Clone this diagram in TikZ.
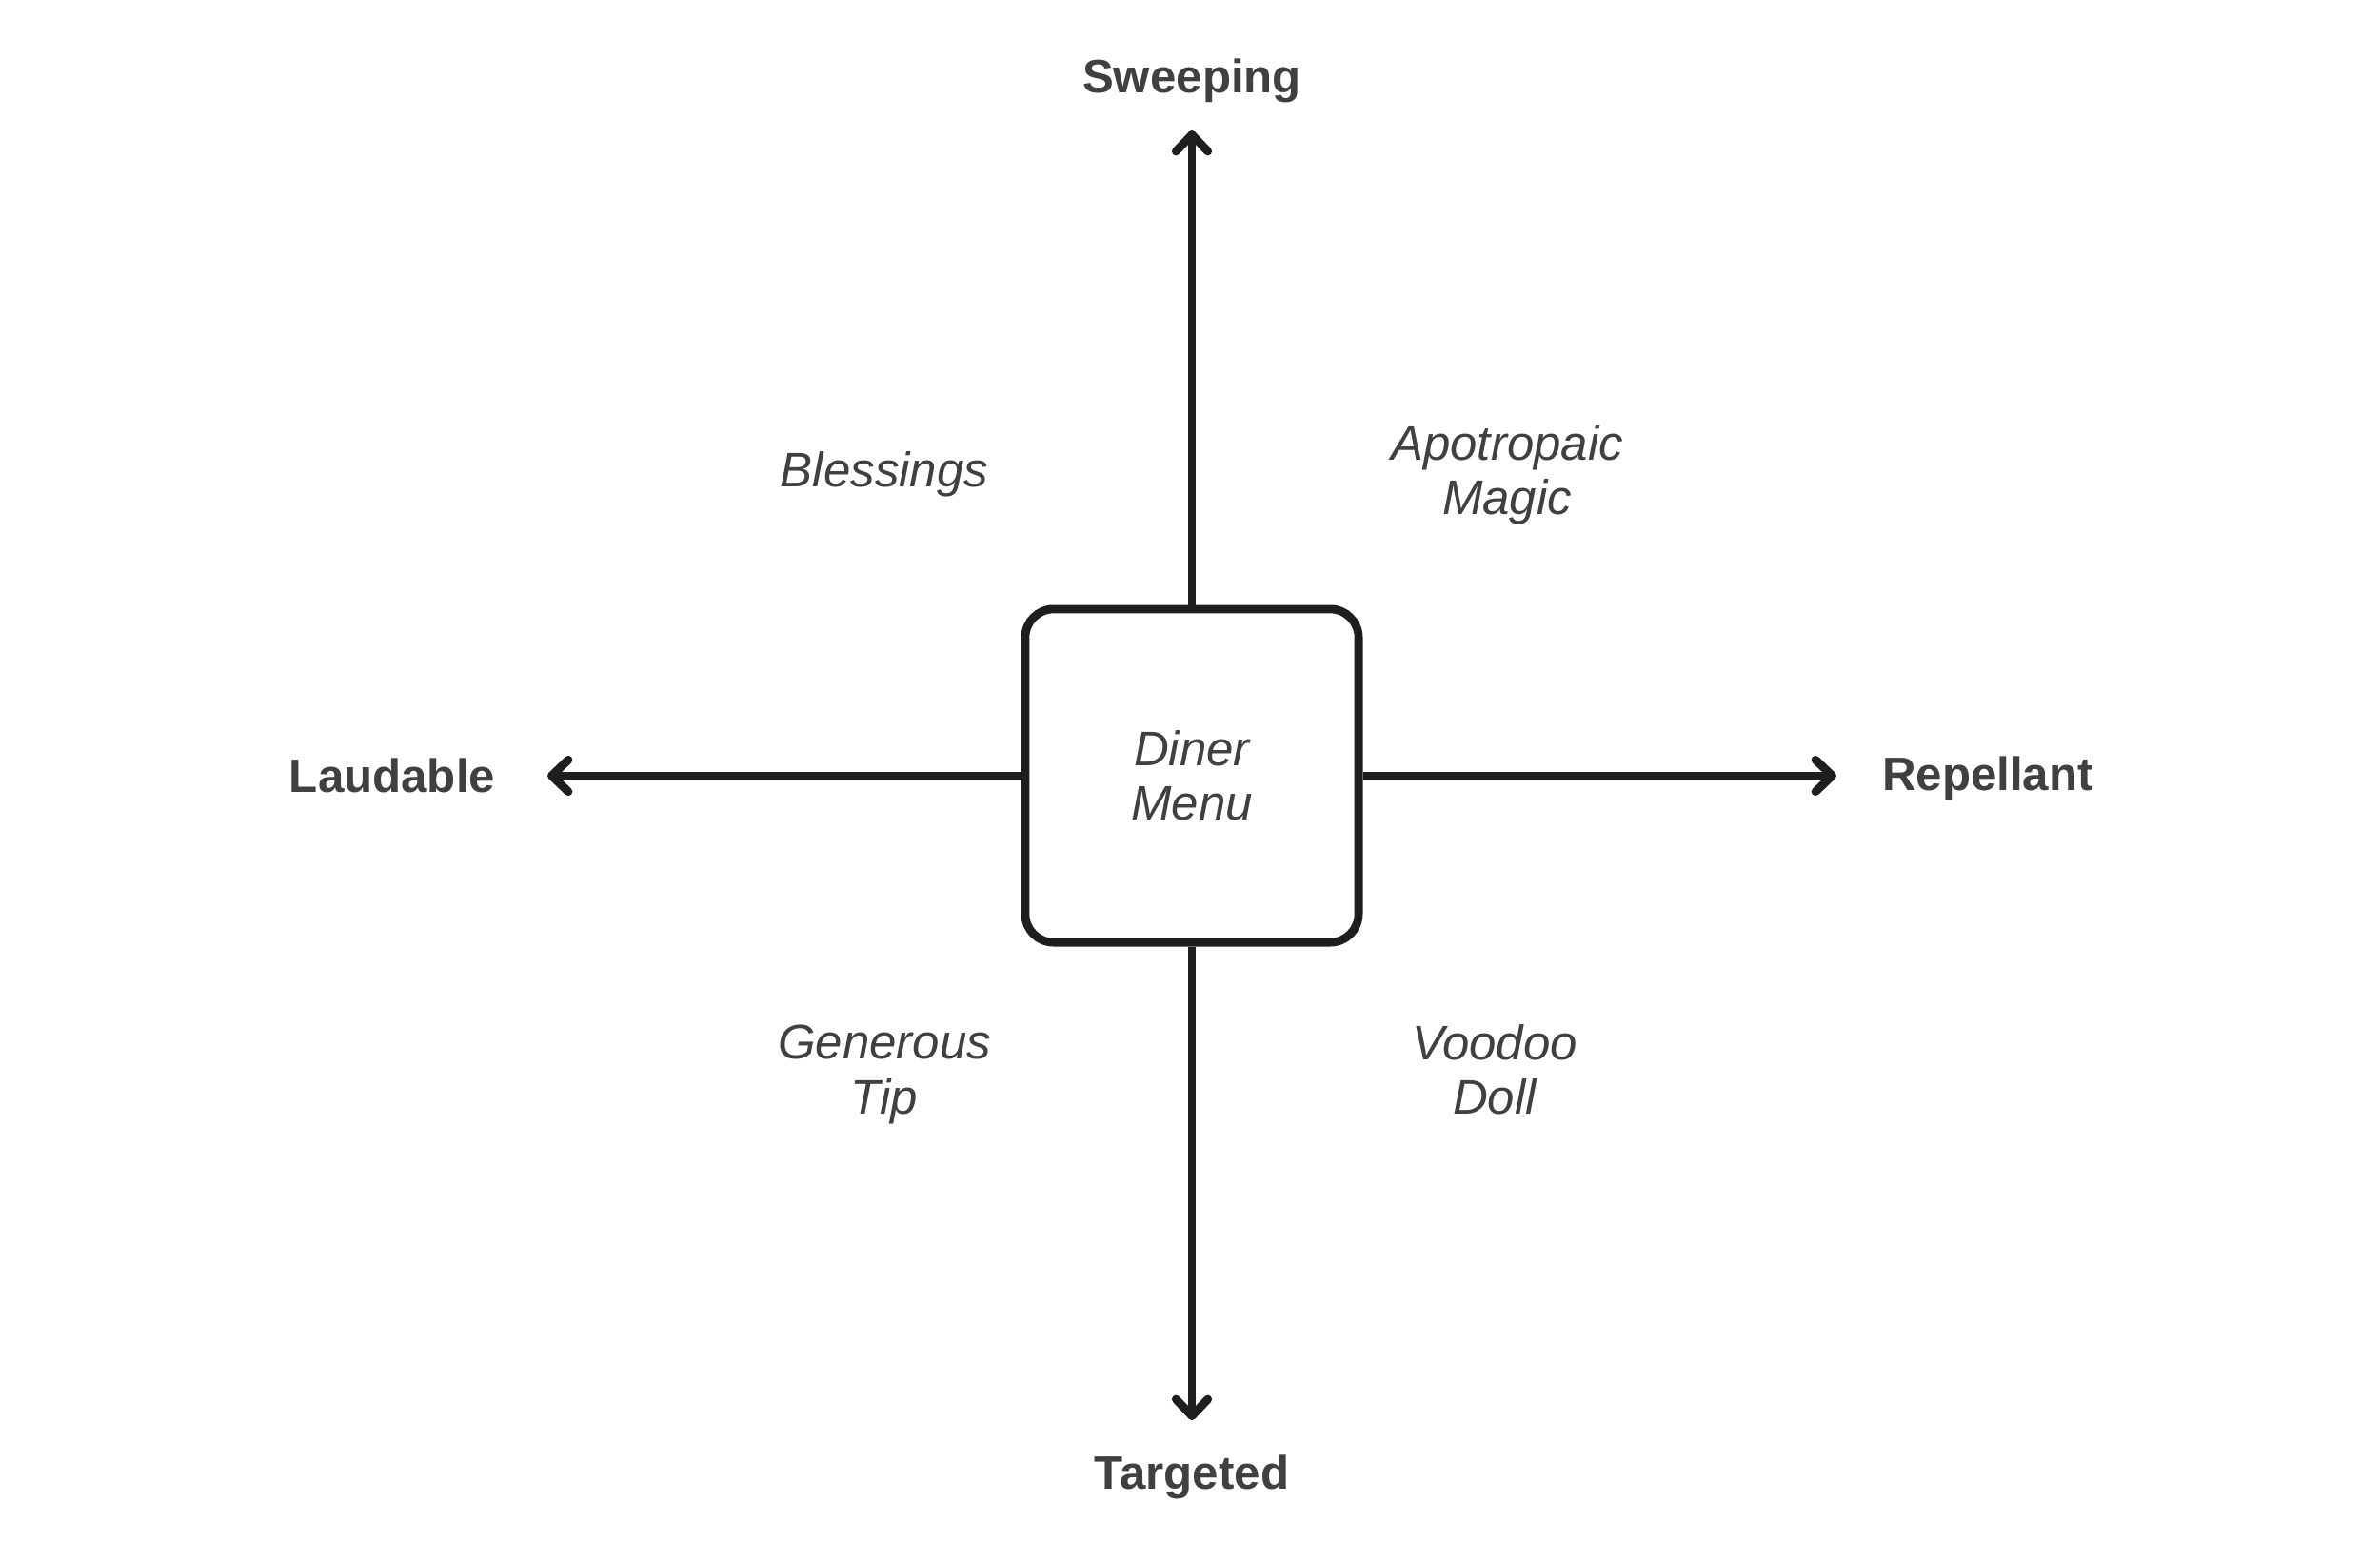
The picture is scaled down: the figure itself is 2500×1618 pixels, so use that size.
\documentclass[tikz,border=0pt]{standalone}
\usepackage{fontspec}
\setmainfont{Liberation Sans}
\usepackage{tikz}
\usetikzlibrary{arrows.meta,positioning}
\definecolor{linecol}{RGB}{30,30,30}
\definecolor{textcol}{RGB}{64,64,64}
\tikzset{
  % centre box
  menubox/.style={rectangle, rounded corners=8.5pt, draw=linecol, line width=2.5pt, fill=white,
                  minimum width=3.5cm, minimum height=3.5cm, align=center, inner sep=0pt,
                  font=\fontsize{14.5}{16.3}\selectfont\itshape, text=textcol},
  % axis arrow
  axisarrow/.style={-{Straight Barb[length=5pt,width=9.5pt,line join=round,line cap=round]},
                    line width=2.5pt, draw=linecol},
  % axis end label
  axislabel/.style={font=\fontsize{14}{16.3}\selectfont\bfseries, text=textcol, inner sep=0pt},
  % quadrant label
  quadlabel/.style={font=\fontsize{14.5}{16.3}\selectfont\itshape, text=textcol, align=center, inner sep=0pt},
}
\begin{document}
\begin{tikzpicture}[x=0.01cm, y=-0.01cm]
  \useasboundingbox (0,0) rectangle (2500,1618);
  \node[menubox] (menu) at (1252,815) {Diner\\Menu};
  % arrow tips
  \coordinate (up) at (1252,137);
  \coordinate (down) at (1252,1492);
  \coordinate (left) at (575,815);
  \coordinate (right) at (1929,815);
  \draw[axisarrow] (menu.north) -- (up);
  \draw[axisarrow] (menu.south) -- (down);
  \draw[axisarrow] (menu.west) -- (left);
  \draw[axisarrow] (menu.east) -- (right);
  % axis ends
  \node[axislabel] (sweep) at (1252,85) {Sweeping};
  \node[axislabel] (target) at (1252,1552) {Targeted};
  \node[axislabel] (laud) at (412,815) {Laudable};
  \node[axislabel] (repel) at (2088,818) {Repellant};
  % quadrants
  \node[quadlabel] (bless) at (929,498) {Blessings};
  \node[quadlabel] (apotro) at (1583,499) {Apotropaic\\Magic};
  \node[quadlabel] (tip) at (929,1129) {Generous\\Tip};
  \node[quadlabel] (voodoo) at (1570,1124) {Voodoo\\Doll};
\end{tikzpicture}
\end{document}
